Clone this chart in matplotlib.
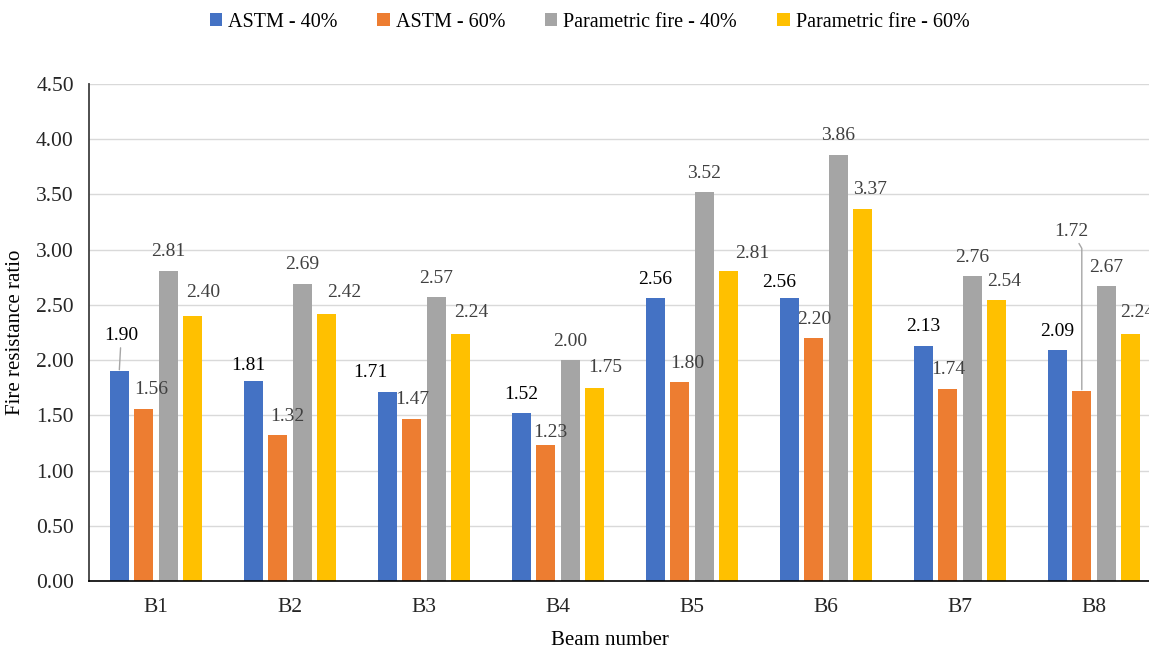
import numpy as np
import matplotlib
matplotlib.use("Agg")
import matplotlib.pyplot as plt

plt.rcParams["font.family"] = ["Liberation Serif", "DejaVu Serif"]

# data
beams = ["B1", "B2", "B3", "B4", "B5", "B6", "B7", "B8"]
series_names = ["ASTM - 40%", "ASTM - 60%", "Parametric fire - 40%", "Parametric fire - 60%"]
astm_40 = [1.90, 1.81, 1.71, 1.52, 2.56, 2.56, 2.13, 2.09]
astm_60 = [1.56, 1.32, 1.47, 1.23, 1.80, 2.20, 1.74, 1.72]
param_40 = [2.81, 2.69, 2.57, 2.00, 3.52, 3.86, 2.76, 2.67]
param_60 = [2.40, 2.42, 2.24, 1.75, 2.81, 3.37, 2.54, 2.24]
yticks = [0.0, 0.5, 1.0, 1.5, 2.0, 2.5, 3.0, 3.5, 4.0, 4.5]

colors = ["#4472C4", "#ED7D31", "#A5A5A5", "#FFC000"]
label_colors = ["#000000", "#404040", "#404040", "#404040"]

# label shifts in pixels (dx, up) where they differ from the default (0, 19)
nudges = {
    (0, 0): (2, 36), (0, 1): (7, 19), (0, 3): (10, 23),
    (1, 0): (-5, 16), (1, 1): (10, 19), (1, 3): (17, 21),
    (2, 0): (-17, 20), (2, 3): (10, 21),
    (3, 1): (5, 13), (3, 3): (10, 20),
    (4, 1): (7, 19), (4, 3): (23, 17),
    (5, 0): (-10, 16), (5, 3): (7, 19),
    (6, 3): (7, 19),
    (7, 1): (-10, 160), (7, 3): (6, 21),
}
leaders = {(0, 0): "arc3", (7, 1): "angle,angleA=-60,angleB=90,rad=0"}

all_series = [astm_40, astm_60, param_40, param_60]

fig = plt.figure(figsize=(11.49, 6.52), dpi=100)
ax = fig.add_axes([0.0775, 0.1089, 0.933, 0.7623])

x = np.arange(len(beams))
step = 0.183
width = 0.142
for i, (vals, name) in enumerate(zip(all_series, series_names)):
    pos = x + (i - 1.5) * step
    ax.bar(pos, vals, width=width, color=colors[i], label=name, zorder=2)
    for g, v in enumerate(vals):
        dx, up = nudges.get((g, i), (0, 19))
        arrow = None
        if (g, i) in leaders:
            arrow = dict(arrowstyle="-", color="#a6a6a6", lw=1, shrinkA=1, shrinkB=1,
                         connectionstyle=leaders[(g, i)])
        ax.annotate(f"{v:.2f}", xy=(pos[g], v), xytext=(dx, up),
                    textcoords="offset pixels", ha="center", va="center",
                    fontsize=14, color=label_colors[i], arrowprops=arrow,
                    annotation_clip=False)

ax.set_xlim(-0.5, len(beams) - 0.5)
ax.set_ylim(0, 4.5)
ax.set_yticks(yticks)
ax.set_yticklabels([f"{t:.2f}" for t in yticks])
ax.set_xticks(x)
ax.set_xticklabels(beams)
ax.tick_params(axis="both", length=0, labelsize=15.5, colors="#262626")
ax.tick_params(axis="y", pad=11)
ax.tick_params(axis="x", pad=12)
ax.yaxis.grid(True, color="#d9d9d9", lw=1, zorder=0)
ax.set_axisbelow(True)

for s in ["top", "right"]:
    ax.spines[s].set_visible(False)
ax.spines["left"].set_color("#404040")
ax.spines["left"].set_linewidth(1.3)
ax.spines["bottom"].set_color("#000000")
ax.spines["bottom"].set_linewidth(1.2)

ax.set_ylabel("Fire resistance ratio", fontsize=15, labelpad=8)
fig.text(0.531, 0.017, "Beam number", ha="center", va="center", fontsize=15)

fig.legend(loc="center", bbox_to_anchor=(0.513, 0.966), ncol=4, frameon=False,
           fontsize=14.5, handlelength=0.6, handleheight=0.6, handletextpad=0.3,
           columnspacing=2.0)

fig.savefig("out.png", dpi=100)
